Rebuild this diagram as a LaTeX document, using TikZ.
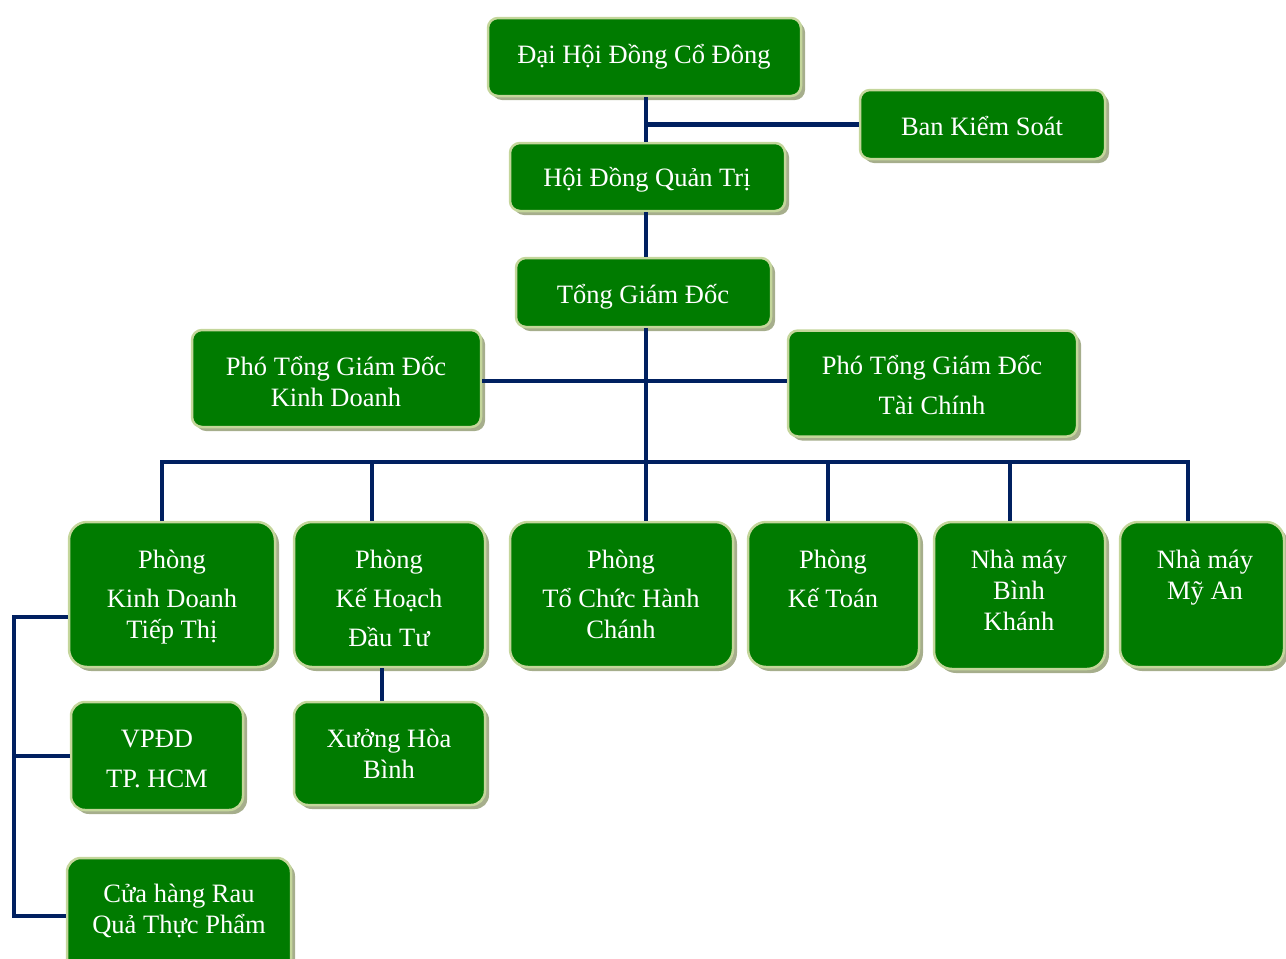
\documentclass[tikz,border=0pt]{standalone}
\usepackage{fontspec}
\setmainfont{Liberation Serif}
\usepackage{xcolor}
\usetikzlibrary{shadows}

\definecolor{boxgreen}{RGB}{0,123,0}
\definecolor{edgegreen}{RGB}{196,214,155}
\definecolor{shadowgray}{RGB}{166,174,140}
\definecolor{linkblue}{RGB}{0,32,96}

\begin{document}
\begin{tikzpicture}[x=1pt,y=1pt,yscale=-1,xscale=1,
  box/.style={draw=edgegreen,line width=2.5pt,fill=boxgreen,rounded corners=10pt,inner sep=0pt,
    general shadow={fill=shadowgray,shadow xshift=4pt,shadow yshift=-4pt}},
  bigbox/.style={box,rounded corners=18pt},
  txt/.style={anchor=base,align=center,text=white,inner sep=0pt,font=\fontsize{26.5}{31}\selectfont},
  link/.style={draw=linkblue,line width=4.5pt}]
\useasboundingbox (0,0) rectangle (1286,959);

% Boxes
\node [box,minimum width=313pt,minimum height=78pt] (dhcd) at (644.5,57) {};
\node [box,minimum width=245pt,minimum height=69pt] (bks) at (982.5,124.5) {};
\node [box,minimum width=275pt,minimum height=68pt] (hdqt) at (647.5,177) {};
\node [box,minimum width=255pt,minimum height=69pt] (tgd) at (643.5,292.5) {};
\node [box,minimum width=289pt,minimum height=97pt] (pkd) at (336.5,378.5) {};
\node [box,minimum width=289pt,minimum height=106pt] (ptc) at (932.5,383.5) {};
\node [bigbox,minimum width=206pt,minimum height=145pt] (kdtt) at (172,594.5) {};
\node [bigbox,minimum width=191pt,minimum height=145pt] (khdt) at (389.5,594.5) {};
\node [bigbox,minimum width=223pt,minimum height=145pt] (tchc) at (621.5,594.5) {};
\node [bigbox,minimum width=171pt,minimum height=145pt] (kt) at (833.5,594.5) {};
\node [bigbox,minimum width=171pt,minimum height=147pt] (nmbk) at (1019.5,595.5) {};
\node [bigbox,minimum width=164pt,minimum height=145pt] (nmma) at (1202,594.5) {};
\node [box,rounded corners=14pt,minimum width=172pt,minimum height=108pt] (vpdd) at (157,756) {};
\node [box,rounded corners=14pt,minimum width=191pt,minimum height=103pt] (xhb) at (389.5,753.5) {};
\node [box,rounded corners=14pt,minimum width=224pt,minimum height=116pt] (chrq) at (179,916) {};

% Text Node (anchored at the baseline of the last line)
\node [txt] (dhcd-t) at (644,63) {Đại Hội Đồng Cổ Đông};
\node [txt] (bks-t) at (982,135) {Ban Kiểm Soát};
\node [txt] (hdqt-t) at (647,186) {Hội Đồng Quản Trị};
\node [txt] (tgd-t) at (643,303) {Tổng Giám Đốc};
\node [txt] (pkd-t) at (336,406) {Phó Tổng Giám Đốc\\Kinh Doanh};
\node [txt] (ptc-t) at (932,414) {Phó Tổng Giám Đốc\\[9pt]Tài Chính};
\node [txt] (kdtt-t) at (172,638) {Phòng\\[8pt]Kinh Doanh\\Tiếp Thị};
\node [txt] (khdt-t) at (389,646) {Phòng\\[8pt]Kế Hoạch\\[8pt]Đầu Tư};
\node [txt] (tchc-t) at (621,638) {Phòng\\[8pt]Tổ Chức Hành\\Chánh};
\node [txt] (kt-t) at (833,607) {Phòng\\[8pt]Kế Toán};
\node [txt] (nmbk-t) at (1019,630) {Nhà máy\\Bình\\Khánh};
\node [txt] (nmma-t) at (1205,599) {Nhà máy\\Mỹ An};
\node [txt] (vpdd-t) at (157,787) {VPĐD\\[9pt]TP. HCM};
\node [txt] (xhb-t) at (389,778) {Xưởng Hòa\\Bình};
\node [txt] (chrq-t) at (179,933) {Cửa hàng Rau\\Quả Thực Phẩm};

% Connectors
\coordinate (spine) at (646,0);
\coordinate (mid) at (646,381);
\coordinate (bus) at (0,462);
\coordinate (lft) at (14,617);

\draw [link] (dhcd.south -| spine) -- (hdqt.north -| spine);
\draw [link] (bks.west) -- (bks.west -| spine);
\draw [link] (hdqt.south -| spine) -- (tgd.north -| spine);
\draw [link] (tgd.south -| spine) -- (tchc.north -| spine);
\draw [link] (pkd.east |- mid) -- (ptc.west |- mid);
\draw [link] ([xshift=-10pt]kdtt.north) -- ([xshift=-10pt]kdtt.north |- bus) -- ([xshift=-14pt]nmma.north |- bus) -- ([xshift=-14pt]nmma.north);
\draw [link] ([xshift=-17.5pt]khdt.north) -- ([xshift=-17.5pt]khdt.north |- bus);
\draw [link] ([xshift=-5.5pt]kt.north) -- ([xshift=-5.5pt]kt.north |- bus);
\draw [link] ([xshift=-9.5pt]nmbk.north) -- ([xshift=-9.5pt]nmbk.north |- bus);
\draw [link] ([xshift=-7.5pt]khdt.south) -- ([xshift=-7.5pt]xhb.north);
\draw [link] (lft -| kdtt.west) -- (lft) -- (lft |- chrq.west) -- (chrq.west);
\draw [link] (vpdd.west) -- (vpdd.west -| lft);

\end{tikzpicture}
\end{document}
